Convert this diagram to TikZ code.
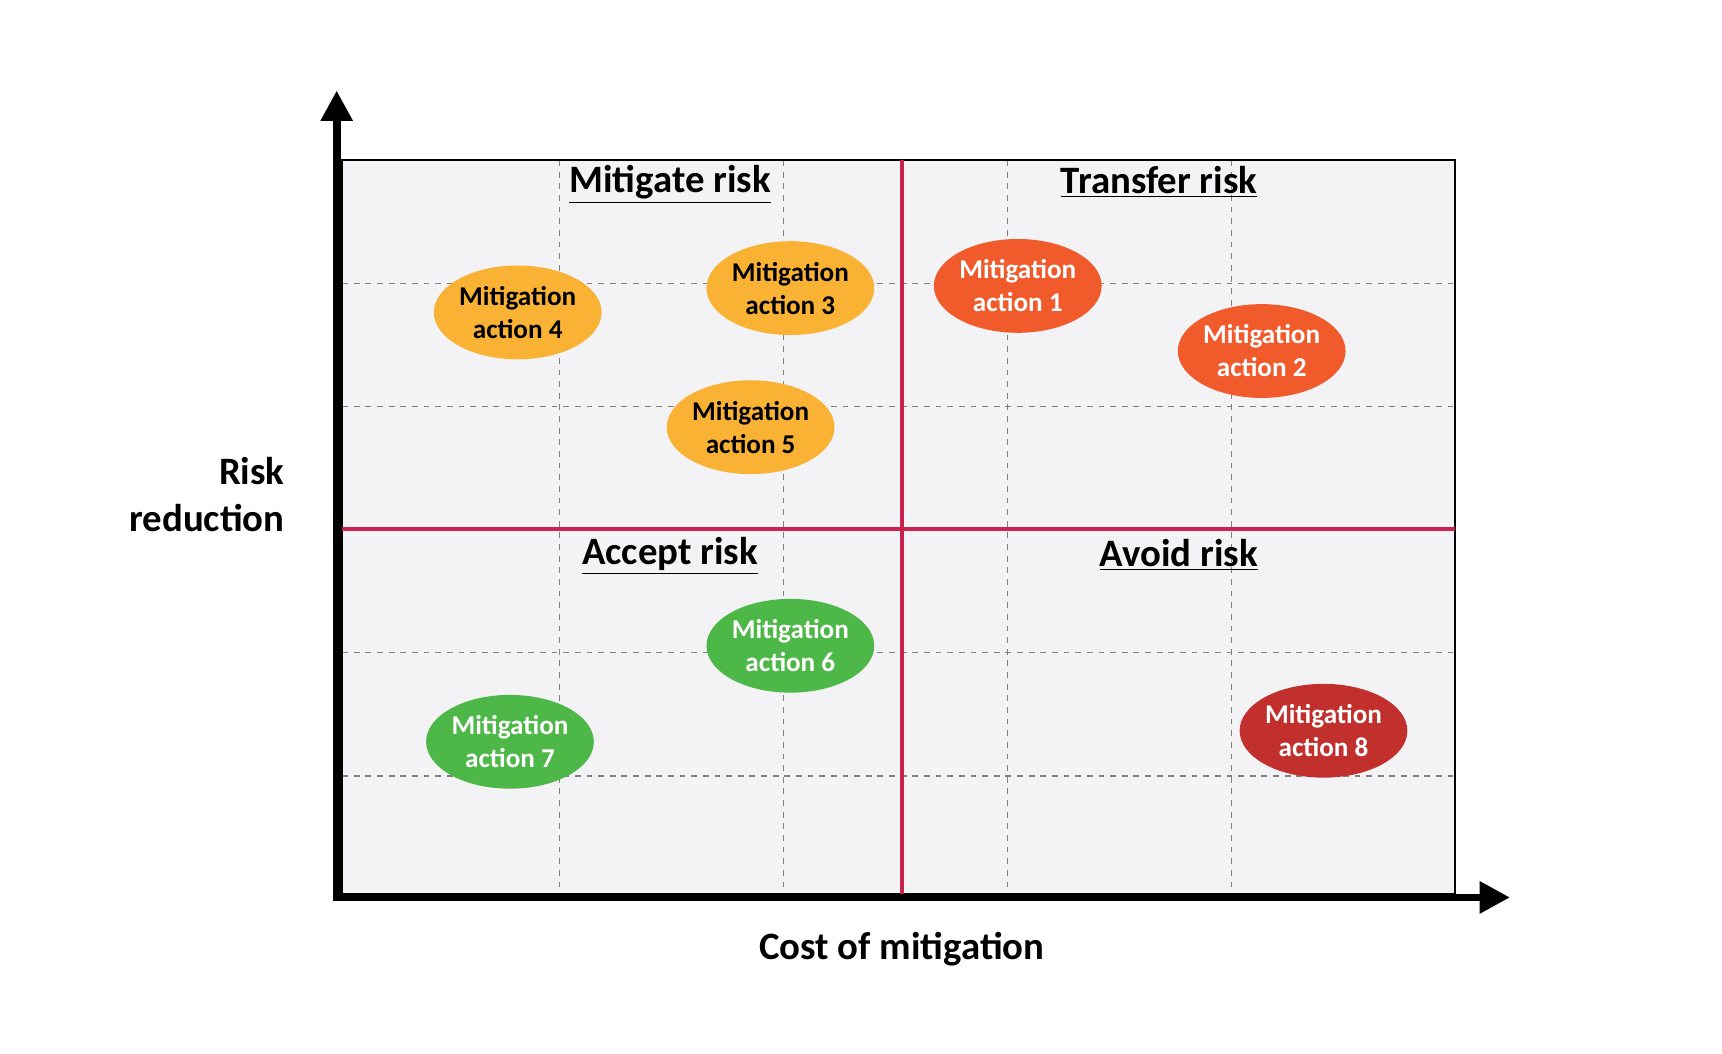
\documentclass[tikz,border=0pt]{standalone}
\usepackage{fontspec}
\setmainfont{Carlito}
\usetikzlibrary{arrows.meta,shapes.geometric}
\definecolor{plotbg}{HTML}{F3F3F5}
\definecolor{quadline}{HTML}{C8224F}
\definecolor{actyellow}{HTML}{F9B233}
\definecolor{actorange}{HTML}{F15A2B}
\definecolor{actgreen}{HTML}{4DB848}
\definecolor{actred}{HTML}{C1302C}
\tikzset{
  action/.style={ellipse, minimum width=3.04cm, minimum height=1.7cm, inner sep=0pt,
    align=center, font=\fontsize{14}{17}\selectfont\bfseries},
  quadlabel/.style={font=\fontsize{20}{24}\selectfont\bfseries},
  grid line/.style={gray, dashed, line width=0.6pt},
}
\begin{document}
\begin{tikzpicture}[x=0.02cm, y=-0.02cm]
\useasboundingbox (0,0) rectangle (1560,954);
\fill[plotbg] (310,145) rectangle (1318,810);
\foreach \x in {507,710,913,1116} \draw[grid line] (\x,145) -- (\x,810);
\foreach \y in {257,368,591,703} \draw[grid line] (310,\y) -- (1318,\y);
\draw[line width=1pt] (310,145) rectangle (1318,810);
\draw[quadline, line width=2.2pt] (817,145) -- (817,812);
\draw[quadline, line width=2.2pt] (310,479) -- (1318,479);
% axes
\draw[line width=4pt, -{Triangle[length=0.55cm, width=0.55cm]}] (305,815) -- (305,82);
\draw[line width=4pt, -{Triangle[length=0.55cm, width=0.55cm]}] (302,813) -- (1368,813);
% quadrant titles
\node[quadlabel] (mitigate) at (607,167) {\underline{Mitigate risk}};
\node[quadlabel] (transfer) at (1050,165) {\underline{Transfer risk}};
\node[quadlabel] (accept) at (607,504) {\underline{Accept risk}};
\node[quadlabel] (avoid) at (1068,503) {\underline{Avoid risk}};
% actions
\node[action, fill=actorange, text=white] (act1) at (922,259) {Mitigation\\action 1};
\node[action, fill=actorange, text=white] (act2) at (1143,318) {Mitigation\\action 2};
\node[action, fill=actyellow] (act3) at (716,261) {Mitigation\\action 3};
\node[action, fill=actyellow] (act4) at (469,283) {Mitigation\\action 4};
\node[action, fill=actyellow] (act5) at (680,387) {Mitigation\\action 5};
\node[action, fill=actgreen, text=white] (act6) at (716,585) {Mitigation\\action 6};
\node[action, fill=actgreen, text=white] (act7) at (462,672) {Mitigation\\action 7};
\node[action, fill=actred, text=white] (act8) at (1199,662) {Mitigation\\action 8};
% axis labels
\node[quadlabel, align=right, anchor=east] (ylabel) at (264,448) {Risk\\reduction};
\node[quadlabel] (xlabel) at (817,860) {Cost of mitigation};
\end{tikzpicture}
\end{document}
